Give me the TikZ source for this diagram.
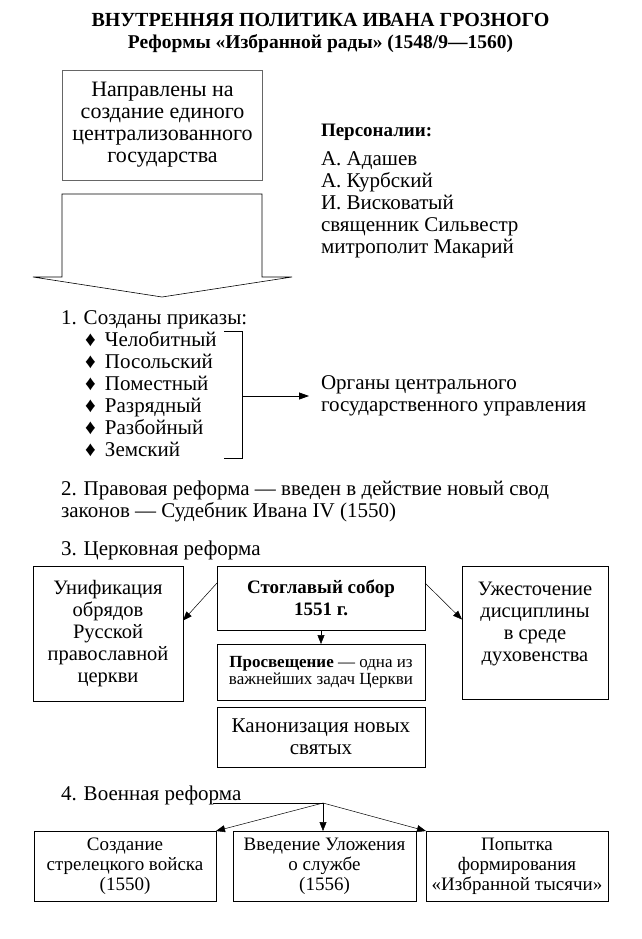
\documentclass[tikz,border=0pt]{standalone}
\usepackage{fontspec}
\setmainfont{Liberation Serif}
\usetikzlibrary{arrows.meta,calc}
\begin{document}
\begin{tikzpicture}[x=1pt,y=-1pt,
  every node/.style={inner sep=0pt, outer sep=0pt},
  body/.style={font=\fontsize{21}{22}\selectfont},
  boxtext/.style={font=\fontsize{20.5}{22}\selectfont},
  small/.style={font=\fontsize{19}{20}\selectfont},
  tiny/.style={font=\fontsize{17}{17.5}\selectfont},
  box/.style={draw, line width=0.8pt, align=center},
  arr/.style={-{Triangle[length=9pt,width=7pt]}, line width=0.5pt},
  bigarr/.style={-{Triangle[length=10pt,width=7pt]}, line width=0.8pt}]
\fill[white] (0,0) rectangle (641,939);
\useasboundingbox (0,0) rectangle (641,939);

% title
\node[font=\bfseries\fontsize{20}{22}\selectfont, align=center] (title) at (320.5,33)
  {ВНУТРЕННЯЯ ПОЛИТИКА ИВАНА ГРОЗНОГО\\{\fontsize{19.5}{22}\selectfont Реформы «Избранной рады» (1548/9—1560)}};

% goal box and big arrow
\node[box, draw=black!60, line width=0.6pt, font=\fontsize{22}{22}\selectfont, minimum width=200pt, minimum height=110pt] (goal) at (162.5,125)
  {Направлены на\\создание единого\\централизованного\\государства};
\draw[line width=0.6pt] (62,277) -- (62,194) -- (262,194) -- (262,277) -- (292,277) -- (162,297) -- (33,277) -- cycle;

% persons
\node[align=left, anchor=west, font=\fontsize{21}{22}\selectfont] (pers) at (321,191)
  {{\bfseries\fontsize{19}{22}\selectfont Персоналии:}\\[7pt]А. Адашев\\А. Курбский\\И. Висковатый\\священник Сильвестр\\митрополит Макарий};

% section 1
\node[body, anchor=west] (s1) at (61,320) {1. Созданы приказы:};
\node[body, align=left, anchor=west] (prikazy) at (85,394)
  {\makebox[20pt][l]{♦}Челобитный\\\makebox[20pt][l]{♦}Посольский\\\makebox[20pt][l]{♦}Поместный\\\makebox[20pt][l]{♦}Разрядный\\\makebox[20pt][l]{♦}Разбойный\\\makebox[20pt][l]{♦}Земский};
\coordinate (bt0) at (224,331);
\coordinate (bt) at (242,331);
\coordinate (bb) at (242,458);
\coordinate (bb0) at (224,458);
\coordinate (bmid) at (242,396);
\draw[line width=0.8pt] (bt0) -- (bt) -- (bb) -- (bb0);
\node[body, align=left, anchor=west] (organy) at (321,396)
  {Органы центрального\\государственного управления};
\draw[bigarr] (bmid) -- ([xshift=-12pt]organy.west);

% section 2
\node[body, align=left, anchor=west] (s2) at (61,501)
  {2. Правовая реформа — введен в действие новый свод\\законов — Судебник Ивана IV (1550)};

% section 3
\node[body, anchor=west] (s3) at (61,550) {3. Церковная реформа};
\node[box, boxtext, minimum width=150pt, minimum height=135pt] (unif) at (108,633.5)
  {Унификация\\обрядов\\Русской\\православной\\церкви};
\node[box, font=\bfseries\fontsize{19}{22}\selectfont, minimum width=208pt, minimum height=64pt] (stogl) at (321,598)
  {Стоглавый собор\\1551 г.};
\node[box, tiny, minimum width=208pt, minimum height=56pt] (prosv) at (321,672)
  {\textbf{Просвещение} — одна из\\важнейших задач Церкви};
\node[box, body, minimum width=208pt, minimum height=60pt] (kanon) at (321,737)
  {Канонизация новых\\святых};
\node[box, boxtext, minimum width=146pt, minimum height=133pt] (uzh) at (535,632.5)
  {Ужесточение\\дисциплины\\в среде\\духовенства\\\mbox{}};
\draw[arr] ([yshift=-17pt]stogl.north west) -- ([yshift=13pt]unif.east);
\draw[arr] ([yshift=-17pt]stogl.north east) -- ([yshift=13pt]uzh.west);
\draw[arr] (stogl.south) -- (prosv.north);

% section 4
\node[body, anchor=west] (s4) at (61,795) {4. Военная реформа};
\node[box, small, minimum width=182pt, minimum height=70pt] (strel) at (125,866)
  {Создание\\стрелецкого войска\\(1550)};
\node[box, small, minimum width=183pt, minimum height=70pt] (ulozh) at (324.5,866)
  {Введение Уложения\\о службе\\(1556)};
\node[box, small, minimum width=182pt, minimum height=70pt] (popyt) at (517,866)
  {Попытка\\формирования\\«Избранной тысячи»};
\coordinate (ul) at (213,803);
\coordinate (hub) at (323,803);
\draw[line width=0.5pt] (ul) -- (hub);
\draw[arr] (hub) -- (strel.north east);
\draw[arr] (hub) -- (hub |- ulozh.north);
\draw[arr] (hub) -- (popyt.north west);
\end{tikzpicture}
\end{document}
